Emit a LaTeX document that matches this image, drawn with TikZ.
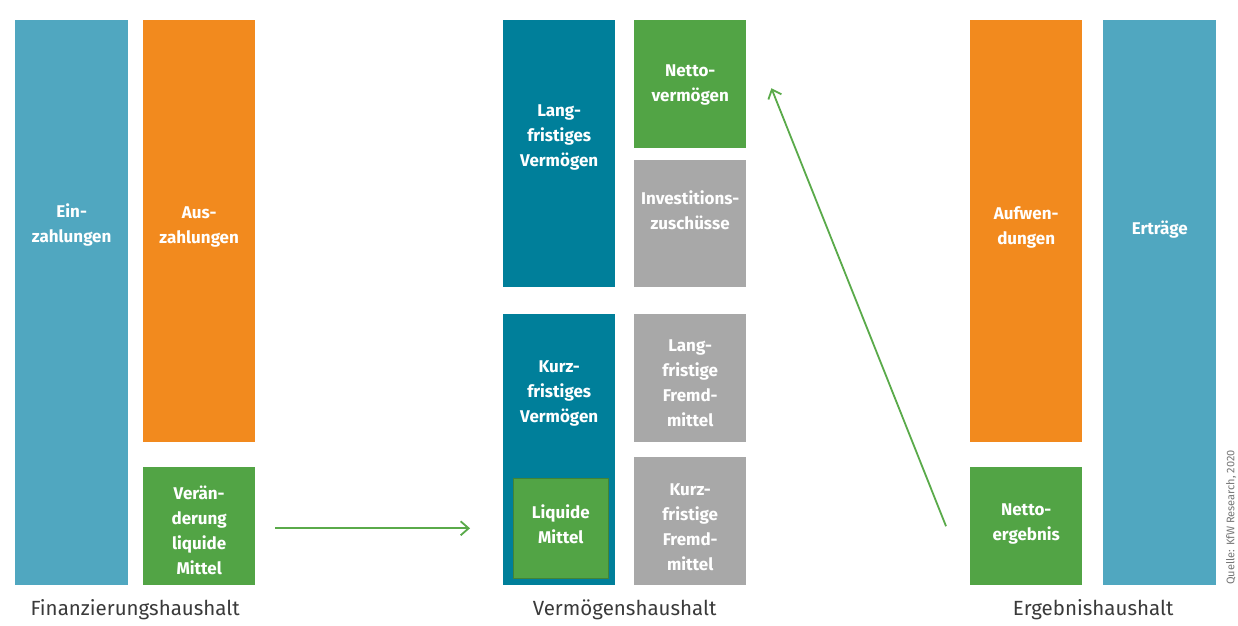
\documentclass[tikz,border=0pt]{standalone}
\usepackage{fontspec}
\setmainfont{Fira Sans}
\usetikzlibrary{positioning,calc,arrows.meta}
\definecolor{hellblau}{HTML}{50A7C0}
\definecolor{orange}{HTML}{F28A1E}
\definecolor{gruen}{HTML}{52A445}
\definecolor{dunkelblau}{HTML}{007F9A}
\definecolor{grau}{HTML}{A8A8A8}
\definecolor{pfeil}{HTML}{5AAA4A}
\definecolor{schrift}{HTML}{3A3A3A}
\tikzset{
  block/.style={inner sep=0pt, minimum width=112pt, anchor=north west},
  btext/.style={text=white, inner sep=0pt, align=center, font=\bfseries\fontsize{17}{25}\selectfont},
  caption/.style={text=schrift, inner sep=0pt, anchor=north, font=\fontsize{20.5}{23}\selectfont},
  flow/.style={->, draw=pfeil, line width=1.8pt}
}

\begin{document}
\begin{tikzpicture}[x=1pt,y=-1pt,>={Straight Barb[length=8pt,width=14pt]}]
  \useasboundingbox[fill=white] (0,0) rectangle (1238,625);
  % Finanzierungshaushalt
  \node[block,fill=hellblau,minimum width=113pt,minimum height=565pt] (ein) at (15,20) {};
  \node[block,fill=orange,minimum height=422pt] (aus) at (143,20) {};
  \node[block,fill=gruen,minimum height=118pt] (ver) at (143,467) {};
  \node[btext] at (ein.center |- 0,225) {Ein-\\zahlungen};
  \node[btext] at (aus.center |- 0,227) {Aus-\\zahlungen};
  \node[btext] at (ver.center |- 0,530) {Ver\"an-\\derung\\liquide\\Mittel};
  % Vermoegenshaushalt
  \node[block,fill=dunkelblau,minimum height=267pt] (lfv) at (503,20) {};
  \node[block,fill=gruen,minimum height=128pt] (nv) at (634,20) {};
  \node[block,fill=grau,minimum height=127pt] (inv) at (634,160) {};
  \node[block,fill=dunkelblau,minimum height=271pt] (kfv) at (503,314) {};
  \node[block,fill=gruen,draw=gruen!80!black,line width=0.6pt,minimum width=95pt,minimum height=100pt] (liq) at (513,478) {};
  \node[block,fill=grau,minimum height=128pt] (lfm) at (634,314) {};
  \node[block,fill=grau,minimum height=128pt] (kfm) at (634,457) {};
  \node[btext] at (lfv.center |- 0,137) {Lang-\\fristiges\\Verm\"ogen};
  \node[btext] at (nv.center |- 0,85) {Netto-\\verm\"ogen};
  \node[btext] at (inv.center |- 0,210) {Investitions-\\zusch\"usse};
  \node[btext] at (kfv.center |- 0,393) {Kurz-\\fristiges\\Verm\"ogen};
  \node[btext] at (liq.center |- 0,524) {Liquide\\Mittel};
  \node[btext] at (lfm.center |- 0,383) {Lang-\\fristige\\Fremd-\\mittel};
  \node[btext] at (kfm.center |- 0,527) {Kurz-\\fristige\\Fremd-\\mittel};
  % Ergebnishaushalt
  \node[block,fill=orange,minimum height=422pt] (auf) at (970,20) {};
  \node[block,fill=gruen,minimum height=118pt] (ne) at (970,467) {};
  \node[block,fill=hellblau,minimum width=113pt,minimum height=565pt] (ert) at (1103,20) {};
  \node[btext] at (auf.center |- 0,227) {Aufwen-\\dungen};
  \node[btext] at (ne.center |- 0,524) {Netto-\\ergebnis};
  \node[btext] at (ert.center |- 0,230) {Ertr\"age};
  % Beschriftung
  \node[caption,yshift=-14pt] (fh) at ($(ein.south west)!.5!(ver.south east)$) {Finanzierungshaushalt};
  \node[caption,yshift=-14pt] (vh) at ($(kfv.south west)!.5!(kfm.south east)$) {Verm\"ogenshaushalt};
  \node[caption,yshift=-14pt] (eh) at ($(ne.south west)!.5!(ert.south east)$) {Ergebnishaushalt};
  \node[rotate=90,anchor=north west,text=grau!70!black,inner sep=0pt,font=\fontsize{11}{12}\selectfont] (quelle) at (1226,585) {Quelle: KfW Research, 2020};
  % Pfeile
  \draw[flow] ([xshift=20pt]ver.east |- liq.center) -- ([xshift=-33pt]kfv.west |- liq.center);
  \draw[flow] ([xshift=-24pt]ne.west) -- ([xshift=25pt,yshift=-4pt]nv.east);
\end{tikzpicture}
\end{document}
